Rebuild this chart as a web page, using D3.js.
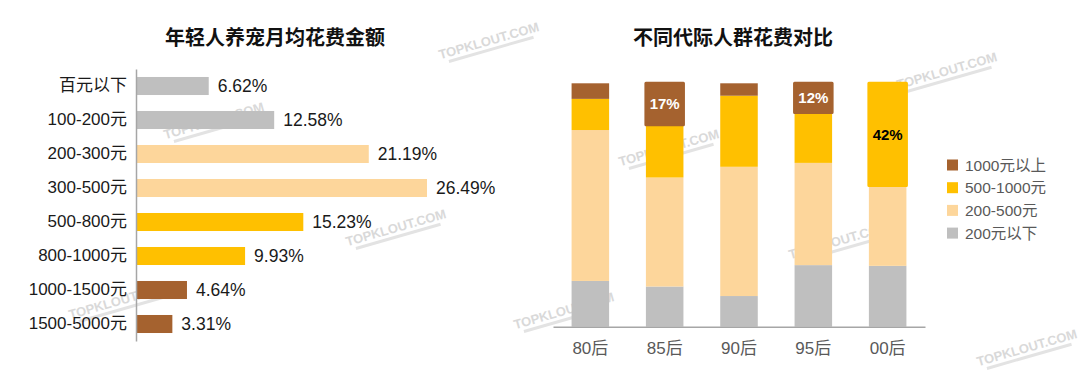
<!DOCTYPE html>
<html>
<head>
<meta charset="utf-8">
<script src="https://cdn.jsdelivr.net/npm/d3@7"></script>
<style>
  body { margin: 0; background: #fff; }
  svg { display: block; font-family: "Liberation Sans", Arial, "Noto Sans CJK SC", sans-serif; }
</style>
</head>
<body>
<svg width="1080" height="376"></svg>
<script>
// left chart: monthly pet spending of young people
const spendCats = ["百元以下", "100-200元", "200-300元", "300-500元", "500-800元", "800-1000元", "1000-1500元", "1500-5000元"];
const spendVals = [6.62, 12.58, 21.19, 26.49, 15.23, 9.93, 4.64, 3.31];
const spendColors = ["#BFBFBF", "#BFBFBF", "#FDD69B", "#FDD69B", "#FFC000", "#FFC000", "#A5622F", "#A5622F"];

// right chart: spending by generation (percent, stacked)
const gens = ["80后", "85后", "90后", "95后", "00后"];
const seriesKeys = ["200元以下", "200-500元", "500-1000元", "1000元以上"];
const under200 = [18.8, 16.5, 12.6, 25.3, 25];
const from200to500 = [62, 44.8, 53.1, 42, 33];
const from500to1000 = [12.8, 21.7, 29.2, 20.7, 42];
const over1000 = [6.4, 17, 5.1, 12, 0];
const seriesColors = ["#BFBFBF", "#FDD69B", "#FFC000", "#A5622F"];
const segLabels = [
  { gen: "85后", key: "1000元以上", text: "17%", color: "#fff" },
  { gen: "95后", key: "1000元以上", text: "12%", color: "#fff" },
  { gen: "00后", key: "500-1000元", text: "42%", color: "#000" }
];

const svg = d3.select("svg");

// watermarks
const marks = [[215, 125], [397, 232], [120, 305], [490, 45], [670, 152], [840, 245], [565, 315], [948, 75], [1028, 352]];
const wm = svg.append("g").attr("pointer-events", "none");
marks.forEach(([x, y]) => {
  const g = wm.append("g").attr("transform", `translate(${x},${y}) rotate(-16)`);
  g.append("text").attr("text-anchor", "middle").attr("font-size", 13).attr("font-weight", "bold")
    .attr("fill", "#d9d9d9").text("TOPKLOUT.COM");
  g.append("rect").attr("x", -44).attr("y", 3).attr("width", 88).attr("height", 3).attr("fill", "#e3e3e3");
});

// ---- left chart ----
const x = d3.scaleLinear().domain([0, 26.49]).range([136, 427]);
const y = d3.scaleBand().domain(spendCats).range([69, 341]).paddingInner(0.47).paddingOuter(0.235);

svg.append("text").attr("x", 275).attr("y", 45).attr("text-anchor", "middle")
  .attr("font-size", 20).attr("font-weight", "bold").attr("fill", "#111").text("年轻人养宠月均花费金额");

const left = svg.append("g");
left.selectAll("rect").data(spendCats).join("rect")
  .attr("x", x(0)).attr("y", d => y(d))
  .attr("width", (d, i) => x(spendVals[i]) - x(0))
  .attr("height", y.bandwidth())
  .attr("fill", (d, i) => spendColors[i]);

left.selectAll("text.val").data(spendCats).join("text").attr("class", "val")
  .attr("x", (d, i) => x(spendVals[i]) + 9)
  .attr("y", d => y(d) + y.bandwidth() / 2)
  .attr("dy", "0.36em").attr("font-size", 17.5).attr("fill", "#1a1a1a")
  .text((d, i) => spendVals[i].toFixed(2) + "%");

const yAxis = left.append("g").attr("transform", `translate(${x(0)},0)`)
  .call(d3.axisLeft(y).tickSize(0).tickPadding(9));
yAxis.select(".domain").attr("stroke", "#A6A6A6").attr("stroke-width", 1.5);
yAxis.selectAll("text").attr("font-size", 17).attr("fill", "#1a1a1a")
  .attr("font-family", "\"Liberation Sans\", Arial, \"Noto Sans CJK SC\", sans-serif");

// ---- right chart ----
svg.append("text").attr("x", 733).attr("y", 45).attr("text-anchor", "middle")
  .attr("font-size", 20).attr("font-weight", "bold").attr("fill", "#111").text("不同代际人群花费对比");

const table = gens.map((g, i) => ({
  gen: g,
  "200元以下": under200[i],
  "200-500元": from200to500[i],
  "500-1000元": from500to1000[i],
  "1000元以上": over1000[i]
}));
const stacked = d3.stack().keys(seriesKeys).offset(d3.stackOffsetExpand)(table);

const bx = d3.scaleBand().domain(gens).range([553, 925]).paddingInner(0.495).paddingOuter(0.25);
const by = d3.scaleLinear().domain([0, 1]).range([326.7, 83.3]);

const right = svg.append("g");
const layers = right.selectAll("g.layer").data(stacked).join("g").attr("class", "layer")
  .attr("fill", (d, i) => seriesColors[i]);
layers.selectAll("rect").data(d => d.map(v => Object.assign(v, { key: d.key }))).join("rect")
  .attr("x", d => bx(d.data.gen))
  .attr("y", d => by(d[1]))
  .attr("width", bx.bandwidth())
  .attr("height", d => by(d[0]) - by(d[1]))
  .each(function (d) {
    const hit = segLabels.find(l => l.gen === d.data.gen && l.key === d.key);
    if (hit) {
      d3.select(this).attr("stroke", seriesColors[seriesKeys.indexOf(d.key)])
        .attr("stroke-width", 3).attr("stroke-linejoin", "round");
    }
  });

segLabels.forEach(l => {
  const layer = stacked.find(s => s.key === l.key);
  const seg = layer[gens.indexOf(l.gen)];
  right.append("text")
    .attr("x", bx(l.gen) + bx.bandwidth() / 2)
    .attr("y", (by(seg[0]) + by(seg[1])) / 2)
    .attr("dy", "0.36em").attr("text-anchor", "middle")
    .attr("font-size", 15).attr("font-weight", "bold").attr("fill", l.color)
    .text(l.text);
});

const xAxis = right.append("g").attr("transform", `translate(0,${by(0)})`)
  .call(d3.axisBottom(bx).tickSize(0).tickPadding(15).tickSizeOuter(0));
xAxis.select(".domain").attr("stroke", "#A6A6A6").attr("stroke-width", 1.5);
xAxis.selectAll("text").attr("font-size", 17).attr("fill", "#595959")
  .attr("font-family", "\"Liberation Sans\", Arial, \"Noto Sans CJK SC\", sans-serif");

// legend, top series first
const legendKeys = seriesKeys.slice().reverse();
const legend = svg.append("g").attr("transform", "translate(947,165)");
const lg = legend.selectAll("g").data(legendKeys).join("g")
  .attr("transform", (d, i) => `translate(0,${i * 22.7})`);
lg.append("rect").attr("x", 0).attr("y", -5.5).attr("width", 11).attr("height", 11)
  .attr("fill", d => seriesColors[seriesKeys.indexOf(d)]);
lg.append("text").attr("x", 18).attr("dy", "0.36em").attr("font-size", 15.5).attr("fill", "#595959").text(d => d);
</script>
</body>
</html>
